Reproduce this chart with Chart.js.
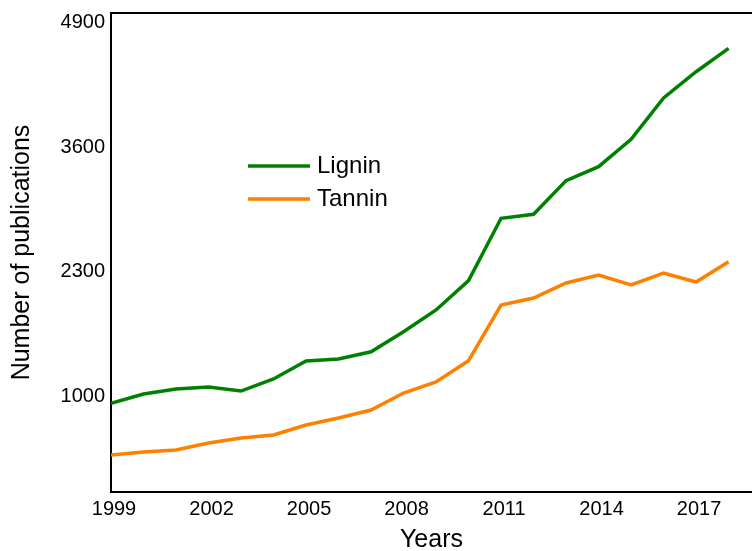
<!DOCTYPE html>
<html>
<head>
<meta charset="utf-8">
<script src="https://cdn.jsdelivr.net/npm/chart.js@4.4.1/dist/chart.umd.min.js"></script>
<style>
  html, body { margin: 0; padding: 0; background: #fff; }
  #wrap { width: 752px; height: 551px; position: relative; }
</style>
</head>
<body>
<div id="wrap"><canvas id="chart"></canvas></div>
<script>
// data
const years = [1999, 2000, 2001, 2002, 2003, 2004, 2005, 2006, 2007, 2008,
               2009, 2010, 2011, 2012, 2013, 2014, 2015, 2016, 2017, 2018];
const lignin = [926, 1023, 1075, 1096, 1054, 1180, 1367, 1388, 1464, 1673,
                1900, 2206, 2857, 2899, 3250, 3396, 3682, 4113, 4387, 4631];
const tannin = [386, 418, 438, 511, 564, 595, 699, 772, 856, 1033,
                1148, 1370, 1952, 2025, 2182, 2265, 2161, 2286, 2192, 2404];
const xTicks = [1999, 2002, 2005, 2008, 2011, 2014, 2017];
const yTicks = [1000, 2300, 3600, 4900];

const FONT = "'Liberation Sans', Arial, sans-serif";

// top border + legend inside the plot
const frameAndLegend = {
  id: 'frameAndLegend',
  afterDraw(chart) {
    const { ctx, chartArea } = chart;
    ctx.save();
    ctx.strokeStyle = '#000';
    ctx.lineWidth = 2;
    ctx.beginPath();
    ctx.moveTo(chartArea.left - 1, chartArea.top);
    ctx.lineTo(chartArea.right, chartArea.top);
    ctx.stroke();

    const x0 = 248, y0 = 166, gap = 33;
    ctx.font = '24px ' + FONT;
    ctx.textBaseline = 'middle';
    ctx.fillStyle = '#000';
    chart.data.datasets.forEach((ds, i) => {
      const y = y0 + i * gap;
      ctx.strokeStyle = ds.borderColor;
      ctx.lineWidth = 3.5;
      ctx.beginPath();
      ctx.moveTo(x0, y);
      ctx.lineTo(x0 + 62, y);
      ctx.stroke();
      ctx.fillText(ds.label, x0 + 69, y);
    });
    ctx.restore();
  }
};

new Chart(document.getElementById('chart'), {
  type: 'line',
  data: {
    datasets: [
      {
        label: 'Lignin',
        data: years.map((y, i) => ({ x: y, y: lignin[i] })),
        borderColor: '#008000',
        borderWidth: 3.5,
        pointRadius: 0,
        tension: 0
      },
      {
        label: 'Tannin',
        data: years.map((y, i) => ({ x: y, y: tannin[i] })),
        borderColor: '#ff8000',
        borderWidth: 3.5,
        pointRadius: 0,
        tension: 0
      }
    ]
  },
  options: {
    responsive: true,
    maintainAspectRatio: false,
    animation: false,
    layout: { padding: { top: 13, right: 0, left: 0, bottom: 0 } },
    plugins: {
      legend: { display: false },
      tooltip: { enabled: false }
    },
    scales: {
      x: {
        type: 'linear',
        min: 1999,
        max: 2018.72,
        afterBuildTicks: (scale) => { scale.ticks = xTicks.map(v => ({ value: v })); },
        afterFit: (scale) => { scale.height = 59; },
        grid: { display: false, drawTicks: false },
        border: { display: true, color: '#000', width: 2 },
        ticks: {
          color: '#000',
          font: { family: FONT, size: 20 },
          padding: 5,
          labelOffset: 3,
          maxRotation: 0,
          autoSkip: false,
          callback: (v) => String(v)
        },
        title: {
          display: true,
          text: 'Years',
          color: '#000',
          font: { family: FONT, size: 25 },
          padding: { top: 0, bottom: -4 }
        }
      },
      y: {
        min: 0,
        max: 5000,
        afterBuildTicks: (scale) => { scale.ticks = yTicks.map(v => ({ value: v })); },
        afterFit: (scale) => {
          scale.width = 111;
          scale.paddingTop = 0;
          scale.paddingBottom = 0;
        },
        grid: { display: false, drawTicks: false },
        border: { display: true, color: '#000', width: 2 },
        ticks: {
          color: '#000',
          font: { family: FONT, size: 20 },
          padding: 6,
          callback: (v) => String(v)
        },
        title: {
          display: true,
          text: 'Number of publications',
          color: '#000',
          font: { family: FONT, size: 25 },
          padding: { top: 7, bottom: 0 }
        }
      }
    }
  },
  plugins: [frameAndLegend]
});
</script>
</body>
</html>
